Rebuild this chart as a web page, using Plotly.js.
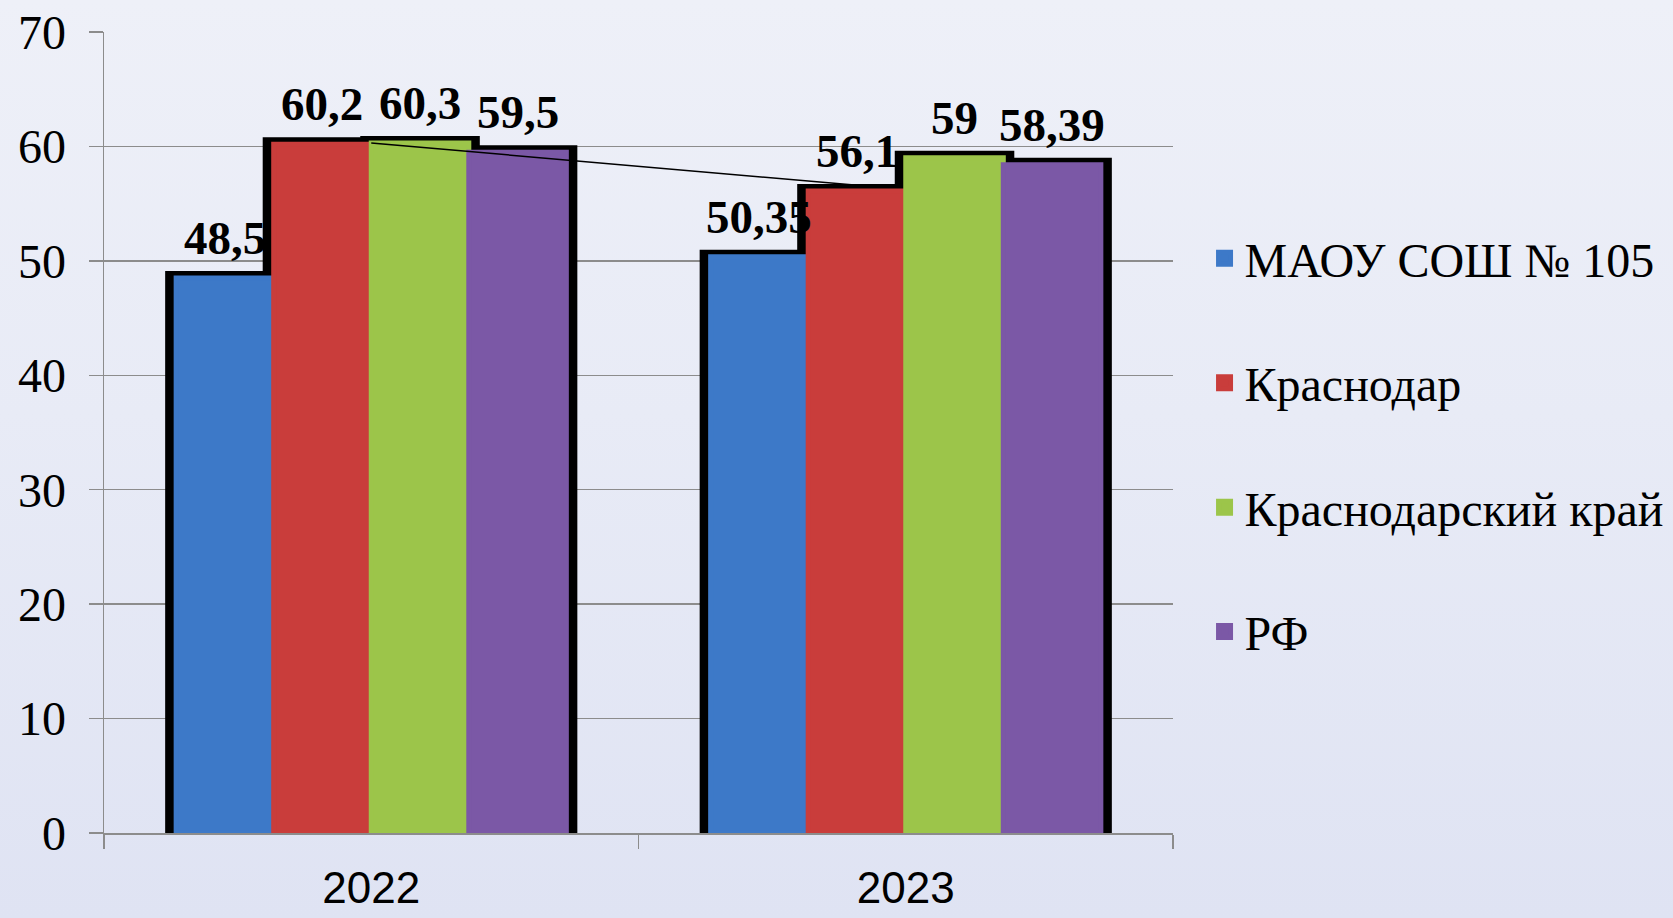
<!DOCTYPE html>
<html>
<head>
<meta charset="utf-8">
<script src="https://cdn.plot.ly/plotly-3.0.1.min.js"></script>
<style>
  html, body { margin: 0; padding: 0; }
  body {
    width: 1673px; height: 918px; overflow: hidden;
    background: linear-gradient(180deg, #eef0f8 0%, #e8ebf6 45%, #dfe3f3 100%);
  }
  #chart { width: 1673px; height: 918px; }
</style>
</head>
<body>
<div id="chart"></div>
<script>
// ---- data ----
const years = ['2022', '2023'];
const seriesNames = ['МАОУ СОШ № 105', 'Краснодар', 'Краснодарский край', 'РФ'];
const school = [48.5, 50.35];
const krasnodar = [60.2, 56.1];
const region = [60.3, 59];
const russia = [59.5, 58.39];
const yTicks = [0, 10, 20, 30, 40, 50, 60, 70];

// ---- styling ----
const seriesValues = [school, krasnodar, region, russia];
const colors = ['#3d79c8', '#c93d3b', '#9cc54a', '#7b58a6'];
const serif = 'Liberation Serif, Times New Roman, serif';
const sans = 'Liberation Sans, Arial, sans-serif';
const barW = 0.1825;                       // width of one bar (category units)
const offsets = [0, 1, 2, 3].map(i => -2 * barW + i * barW);
const pxPerCat = 534.5;                    // approx pixels per category
const shadowExtra = 4 / pxPerCat;          // widen the black outline slightly

const fmt = v => String(v).replace('.', ',');

const traces = [];
// black outline bars drawn first
seriesValues.forEach((vals, i) => {
  traces.push({
    type: 'bar', x: years, y: vals,
    width: barW + 2 * shadowExtra, offset: offsets[i] - shadowExtra,
    marker: { color: '#000', line: { color: '#000', width: 14 } },
    showlegend: false, hoverinfo: 'skip'
  });
});
// coloured bars
seriesValues.forEach((vals, i) => {
  traces.push({
    type: 'bar', name: seriesNames[i], x: years, y: vals,
    width: barW, offset: offsets[i],
    marker: { color: colors[i], line: { color: colors[i], width: 5 } },
    legendgroup: 'g' + i
  });
});

// value labels above bars
const annotations = [];
seriesValues.forEach((vals, i) => {
  vals.forEach((v, j) => {
    annotations.push({
      xref: 'x', yref: 'y', x: j + offsets[i] + barW / 2, y: v,
      yanchor: 'bottom', xanchor: 'center', yshift: 12, showarrow: false,
      text: fmt(v),
      font: { family: serif, size: 47, color: '#000', weight: 'bold' }
    });
  });
});

const layout = {
  width: 1673, height: 918,
  paper_bgcolor: 'rgba(0,0,0,0)', plot_bgcolor: 'rgba(0,0,0,0)',
  margin: { l: 104, r: 500, t: 32, b: 85, autoexpand: false },
  barmode: 'overlay',
  showlegend: true,
  legend: {
    x: 1.0295, xanchor: 'left', y: 0.7645, yanchor: 'top',
    font: { family: serif, size: 48, color: '#000' },
    tracegroupgap: 59, bgcolor: 'rgba(0,0,0,0)', itemclick: false
  },
  xaxis: {
    type: 'category', tickson: 'boundaries', ticks: 'outside', ticklen: 14,
    tickcolor: '#8c8c8c', tickwidth: 1.5,
    showline: true, linecolor: '#8c8c8c', linewidth: 1.5,
    tickfont: { family: sans, size: 44, color: '#000' },
    ticklabelstandoff: 16,
    range: [-0.5, 1.5]
  },
  yaxis: {
    range: [0, 70], tickvals: yTicks, ticktext: yTicks.map(String),
    ticks: 'outside', ticklen: 14, tickcolor: '#8c8c8c', tickwidth: 1.5,
    showline: true, linecolor: '#8c8c8c', linewidth: 1.5,
    showgrid: true, gridcolor: '#8c8c8c', gridwidth: 1.5,
    zeroline: false,
    tickfont: { family: serif, size: 48, color: '#000' },
    ticklabelstandoff: 13
  },
  annotations: annotations,
  shapes: [{
    type: 'line', layer: 'above', xref: 'x', yref: 'y',
    x0: 0 + offsets[2], y0: region[0],
    x1: 1 + offsets[1] + 0.65 * barW, y1: krasnodar[1] + 0.4,
    line: { color: '#000', width: 1.5 }
  }]
};

Plotly.newPlot('chart', traces, layout, { staticPlot: true, displayModeBar: false });
</script>
</body>
</html>
